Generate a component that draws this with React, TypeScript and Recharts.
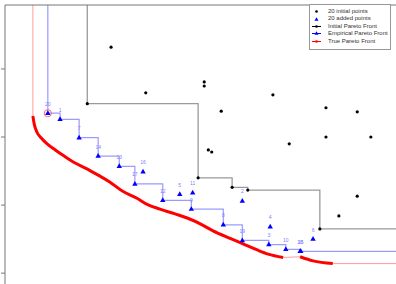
import React from 'react';
import { ComposedChart, Line, Scatter, XAxis, YAxis, LabelList, Legend } from 'recharts';

const X_MAX = 5.75;
const Y_MIN = 0.84;
const Y_MAX = 4.94;

// 20 initial points [f1, f2]
const initialPoints = [
  [1.56, 4.32], [2.07, 3.65], [2.93, 3.81], [2.93, 3.75], [3.94, 3.62],
  [3.18, 3.38], [4.72, 3.43], [5.18, 3.37], [4.72, 3.0], [5.38, 3.0],
  [4.18, 2.9], [2.99, 2.81], [3.04, 2.78], [5.18, 2.13], [4.91, 1.84],
  [1.21, 3.49], [2.84, 2.4], [3.34, 2.26], [3.57, 2.22], [4.63, 1.65],
];

// 20 added points, labelled by iteration
const addedIds = [20, 1, 7, 14, 13, 17, 12, 9, 8, 19, 3, 10, 18, 15, 16, 5, 11, 2, 4, 6];
const addedX = [0.63, 0.81, 1.09, 1.37, 1.68, 1.91, 2.32, 2.74, 3.21, 3.49, 3.88, 4.13, 4.34, 4.35, 2.03, 2.57, 2.76, 3.49, 3.9, 4.53];
const addedY = [3.35, 3.26, 2.99, 2.72, 2.57, 2.31, 2.07, 1.94, 1.71, 1.48, 1.42, 1.35, 1.32, 1.32, 2.49, 2.16, 2.18, 2.06, 1.68, 1.5];

// true Pareto front, sampled where it is dense
const trueSegA = [
  [0.41, 3.31], [0.43, 3.19], [0.47, 3.07], [0.53, 2.99], [0.62, 2.9], [0.74, 2.81],
  [0.87, 2.72], [1.01, 2.63], [1.19, 2.54], [1.37, 2.44], [1.54, 2.34], [1.72, 2.21],
  [1.94, 2.1], [2.09, 2.01], [2.28, 1.94], [2.5, 1.87], [2.68, 1.81], [2.9, 1.71],
  [3.06, 1.62], [3.31, 1.51], [3.5, 1.43], [3.71, 1.34], [3.87, 1.28], [4.09, 1.23],
];
const trueSegB = [[4.34, 1.24], [4.53, 1.18], [4.82, 1.14]];

const toXY = (pts: number[][]) => pts.map(([x, y]) => ({ x, y }));

const initialData = toXY(initialPoints);
const addedData = addedIds.map((id, i) => ({ id, x: addedX[i], y: addedY[i] }));

// non-dominated points (minimise both), as a step path from the top edge to the right edge
function frontPath(pts: { x: number; y: number }[]) {
  const sorted = [...pts].sort((a, b) => a.x - b.x || a.y - b.y);
  const front: { x: number; y: number }[] = [];
  let best = Infinity;
  sorted.forEach((p) => {
    if (p.y < best) {
      front.push({ x: p.x, y: p.y });
      best = p.y;
    }
  });
  return [{ x: front[0].x, y: Y_MAX }, ...front, { x: X_MAX, y: front[front.length - 1].y }];
}

const initialFront = frontPath(initialData);
const empiricalFront = frontPath(addedData);
const segA = toXY(trueSegA);
const segB = toXY(trueSegB);
const trueThin = [
  { x: segA[0].x, y: Y_MAX },
  ...segA,
  ...segB,
  { x: X_MAX, y: segB[segB.length - 1].y },
];
const firstAdded = [addedData[0]];

const Dot = (p: any) => <circle cx={p.cx} cy={p.cy} r={1.6} fill="#000" />;
const Tri = (p: any) => (
  <polygon
    points={`${p.cx},${p.cy - 3} ${p.cx - 2.7},${p.cy + 1.7} ${p.cx + 2.7},${p.cy + 1.7}`}
    fill="#0000ff"
  />
);
const Ring = (p: any) => <circle cx={p.cx} cy={p.cy} r={3.6} fill="none" stroke="#ff6a6a" strokeWidth={1} />;

const legendItems = [
  { label: '20 initial points', kind: 'dot', color: '#000' },
  { label: '20 added points', kind: 'tri', color: '#0000ff' },
  { label: 'Initial Pareto Front', kind: 'lineDot', color: '#000' },
  { label: 'Empirical Pareto Front', kind: 'lineTri', color: '#0000ff' },
  { label: 'True Pareto Front', kind: 'lineDot', color: '#ff0000' },
];

function LegendBox() {
  return (
    <div
      style={{
        border: '1px solid #999',
        background: '#fff',
        width: 82,
        height: 46,
        boxSizing: 'border-box',
        padding: '3px 0 0 0',
        fontFamily: '"Liberation Sans", Arial, sans-serif',
        fontSize: 6,
        color: '#333',
      }}
    >
      {legendItems.map((it) => (
        <div key={it.label} style={{ display: 'flex', alignItems: 'center', height: 7.4, lineHeight: '7.4px' }}>
          <svg width={18} height={7} style={{ flex: 'none' }}>
            {it.kind.startsWith('line') && <line x1={2} x2={11} y1={3.5} y2={3.5} stroke={it.color} strokeWidth={1} />}
            {it.kind.endsWith('ot') || it.kind === 'dot' ? (
              <circle cx={6.5} cy={3.5} r={1.3} fill={it.color} />
            ) : (
              <polygon points="6.5,1.3 4.5,4.8 8.5,4.8" fill={it.color} />
            )}
          </svg>
          <span style={{ whiteSpace: 'nowrap' }}>{it.label}</span>
        </div>
      ))}
    </div>
  );
}

export default function App() {
  return (
    <div style={{ position: 'absolute', left: 0, top: 0 }}>
      <ComposedChart width={396} height={284} margin={{ top: 0, right: 0, bottom: 0, left: 0 }}>
        <XAxis
          type="number"
          dataKey="x"
          domain={[0, X_MAX]}
          orientation="top"
          height={5}
          tick={false}
          tickLine={false}
          axisLine={{ stroke: '#777' }}
          allowDataOverflow
        />
        <YAxis
          type="number"
          dataKey="y"
          domain={[Y_MIN, Y_MAX]}
          ticks={[1, 2, 3, 4]}
          width={5}
          tickSize={4}
          tickFormatter={() => ''}
          axisLine={{ stroke: '#777' }}
          tickLine={{ stroke: '#777' }}
          allowDataOverflow
        />
        <Legend
          layout="vertical"
          align="center"
          verticalAlign="middle"
          wrapperStyle={{ top: 4, left: 309, width: 82, height: 46 }}
          content={LegendBox}
        />
        <Line data={trueThin} dataKey="y" type="linear" stroke="#ff9c9c" strokeWidth={1} dot={false} activeDot={false} isAnimationActive={false} />
        <Line data={segA} dataKey="y" type="monotone" stroke="#ff0000" strokeWidth={3} dot={false} activeDot={false} isAnimationActive={false} />
        <Line data={segB} dataKey="y" type="monotone" stroke="#ff0000" strokeWidth={3} dot={false} activeDot={false} isAnimationActive={false} />
        <Line data={initialFront} dataKey="y" type="stepAfter" stroke="#9a9a9a" strokeWidth={1.3} dot={false} activeDot={false} isAnimationActive={false} />
        <Line data={empiricalFront} dataKey="y" type="stepAfter" stroke="#9a9aff" strokeWidth={1.2} dot={false} activeDot={false} isAnimationActive={false} />
        <Scatter data={initialData} dataKey="y" shape={Dot} isAnimationActive={false} />
        <Scatter data={firstAdded} dataKey="y" shape={Ring} isAnimationActive={false} />
        <Scatter data={addedData} dataKey="y" shape={Tri} isAnimationActive={false}>
          <LabelList
            dataKey="id"
            position="top"
            offset={3}
            fontSize={5}
            fill="#8080ff"
            fontFamily='"Liberation Sans", Arial, sans-serif'
          />
        </Scatter>
      </ComposedChart>
    </div>
  );
}
